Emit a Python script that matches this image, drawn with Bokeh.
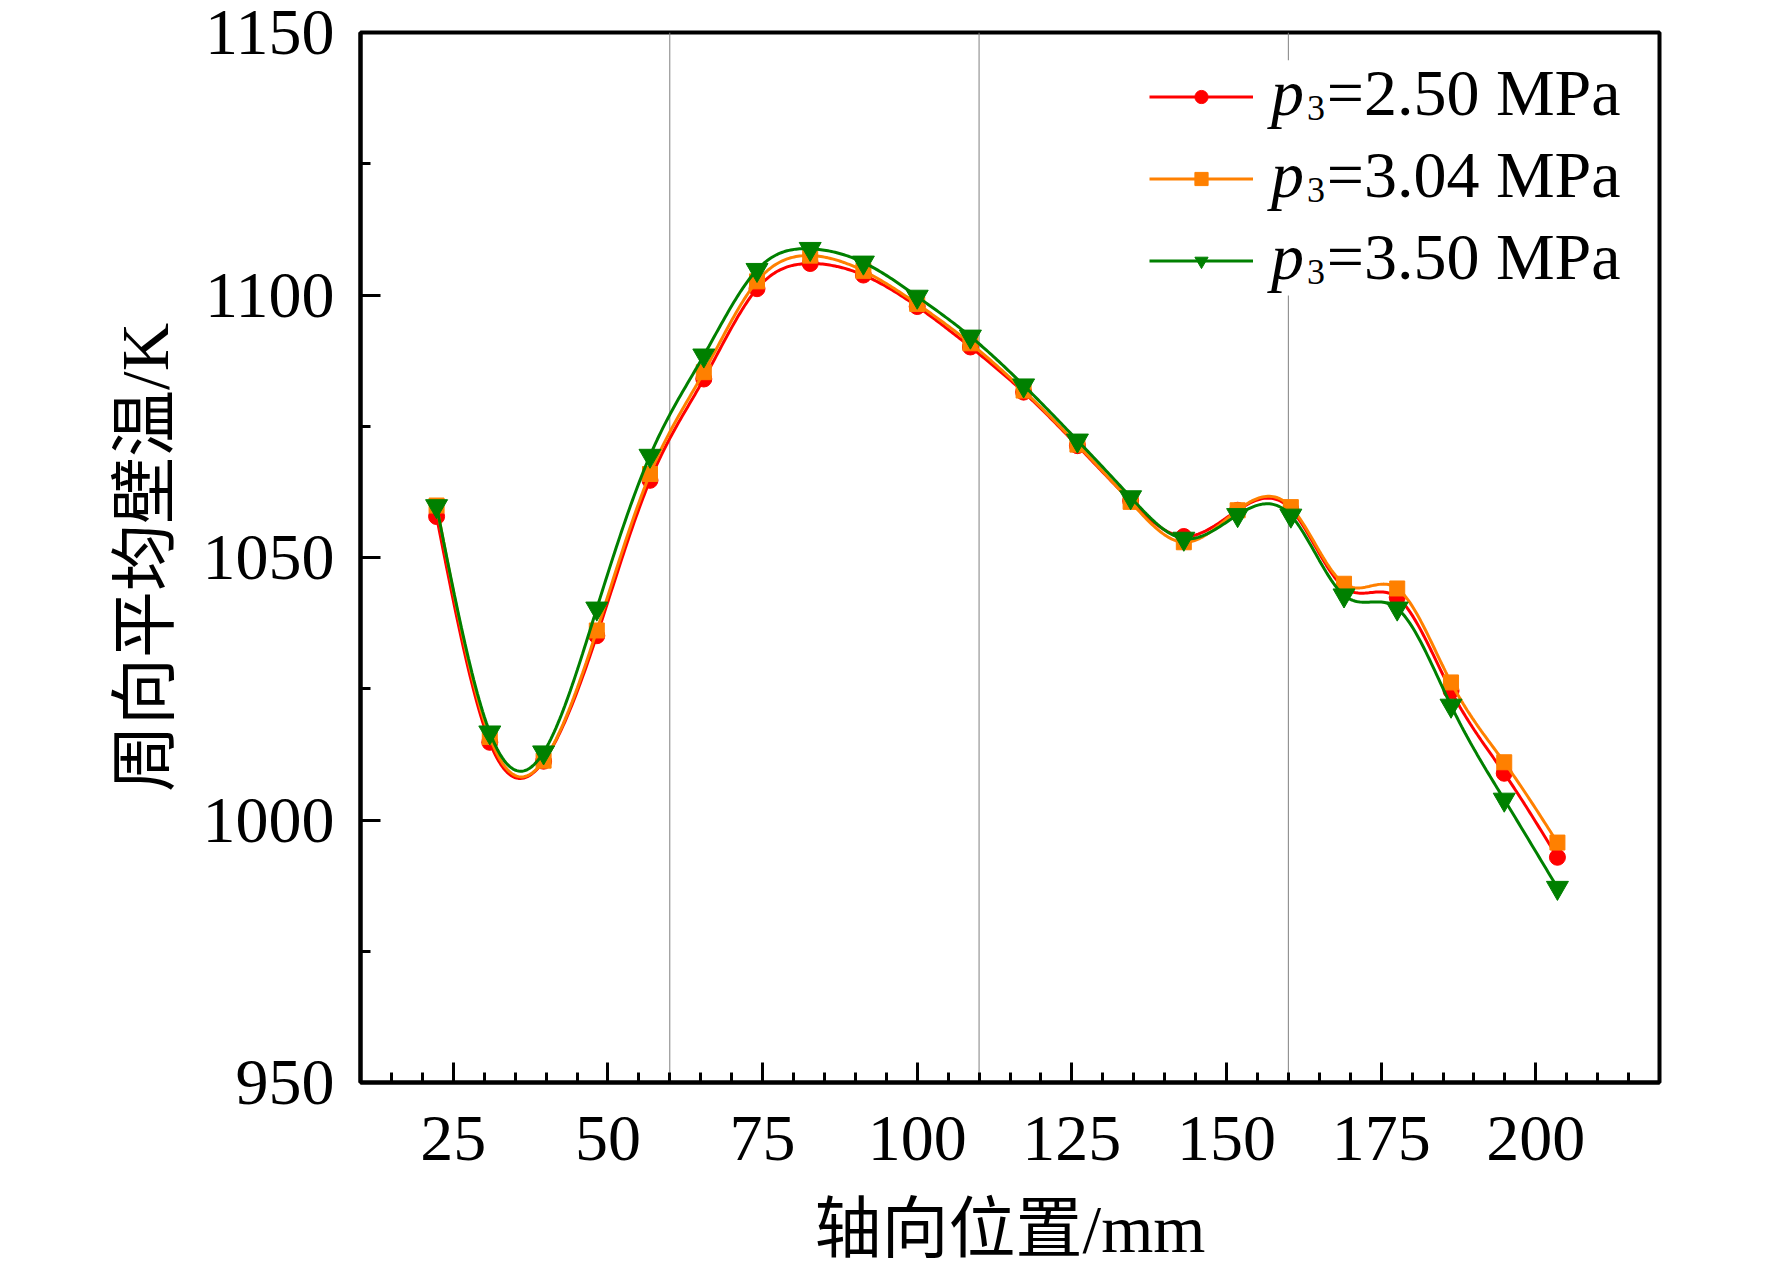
import numpy as np
from bokeh.plotting import figure
from bokeh.models import FixedTicker, Span, Legend, LegendItem, Label, Range1d, BoxAnnotation
from bokeh.embed import file_html
from bokeh.resources import INLINE

# ---------------- data ----------------
axial_mm = [22.3, 30.9, 39.6, 48.2, 56.8, 65.5, 74.1, 82.7, 91.3, 100.0, 108.6,
            117.2, 125.9, 134.5, 143.1, 151.8, 160.4, 169.0, 177.6, 186.3, 194.9, 203.5]
temp_250 = [1057.8, 1014.8, 1011.2, 1035.1, 1064.7, 1084.0, 1101.2, 1106.0, 1103.8, 1097.8, 1090.1,
            1081.5, 1071.3, 1060.8, 1054.0, 1059.0, 1059.2, 1044.3, 1042.4, 1024.6, 1008.9, 992.9]
temp_304 = [1059.9, 1015.8, 1011.3, 1036.1, 1065.9, 1085.3, 1102.6, 1107.5, 1104.6, 1098.3, 1090.8,
            1081.8, 1071.5, 1060.6, 1052.9, 1059.0, 1059.6, 1045.0, 1044.1, 1026.2, 1011.0, 995.7]
temp_350 = [1059.8, 1016.7, 1012.9, 1040.3, 1069.4, 1088.5, 1104.8, 1108.8, 1106.2, 1099.7, 1092.1,
            1082.8, 1072.3, 1061.5, 1053.6, 1058.1, 1058.0, 1042.8, 1040.3, 1021.8, 1003.9, 987.1]
legend_labels = ["=2.50 MPa", "=3.04 MPa", "=3.50 MPa"]
divider_x = [60, 110, 160]
x_major = [25, 50, 75, 100, 125, 150, 175, 200]
x_minor = list(range(10, 221, 5))
y_major = [950, 1000, 1050, 1100, 1150]
y_minor = list(range(950, 1151, 25))

colors = ["#FF0000", "#FF8000", "#008000"]
markers = ["circle", "square", "inverted_triangle"]
msizes = [16, 15, 22]


def natural_spline(x, y, per=30):
    x = np.asarray(x, float)
    y = np.asarray(y, float)
    n = len(x)
    h = np.diff(x)
    A = np.zeros((n, n))
    b = np.zeros(n)
    A[0, 0] = 1
    A[-1, -1] = 1
    for i in range(1, n - 1):
        A[i, i - 1] = h[i - 1]
        A[i, i] = 2 * (h[i - 1] + h[i])
        A[i, i + 1] = h[i]
        b[i] = 6 * ((y[i + 1] - y[i]) / h[i] - (y[i] - y[i - 1]) / h[i - 1])
    M = np.linalg.solve(A, b)
    xs, ys = [], []
    for i in range(n - 1):
        t = np.linspace(x[i], x[i + 1], per, endpoint=(i == n - 2))
        a = x[i + 1] - t
        c = t - x[i]
        s = (M[i] * a ** 3 + M[i + 1] * c ** 3) / (6 * h[i]) \
            + (y[i] / h[i] - M[i] * h[i] / 6) * a + (y[i + 1] / h[i] - M[i + 1] * h[i] / 6) * c
        xs.extend(t)
        ys.extend(s)
    return xs, ys


p = figure(frame_width=1299, frame_height=1050,
           x_range=Range1d(10, 220), y_range=Range1d(950, 1150),
           output_backend="svg", toolbar_location=None,
           min_border_left=360, min_border_right=105,
           min_border_top=32, min_border_bottom=180)
p.background_fill_color = "white"
p.border_fill_color = "white"
p.outline_line_color = "black"
p.outline_line_width = 4
p.xgrid.visible = False
p.ygrid.visible = False

serif = "'Liberation Serif', 'Noto Sans CJK SC'"

for ax, maj, mnr in ((p.xaxis[0], x_major, x_minor), (p.yaxis[0], y_major, y_minor)):
    ax.ticker = FixedTicker(ticks=maj, minor_ticks=mnr)
    ax.axis_line_width = 4
    ax.axis_line_color = "black"
    ax.major_tick_in = 20
    ax.major_tick_out = 0
    ax.minor_tick_in = 10
    ax.minor_tick_out = 0
    ax.major_tick_line_width = 3
    ax.minor_tick_line_width = 3
    ax.major_tick_line_color = "black"
    ax.minor_tick_line_color = "black"
    ax.major_label_text_font = "Liberation Serif"
    ax.major_label_text_font_size = "66px"
    ax.major_label_text_color = "black"
    ax.axis_label_text_font = serif
    ax.axis_label_text_font_size = "67px"
    ax.axis_label_text_font_style = "normal"
    ax.axis_label_text_color = "black"

p.xaxis.axis_label = "轴向位置/mm"
p.yaxis.axis_label = "周向平均壁温/K"
p.xaxis.major_label_standoff = 34
p.yaxis.major_label_standoff = 26
p.xaxis.axis_label_standoff = 29
p.yaxis.axis_label_standoff = 18

for xv in divider_x:
    p.add_layout(Span(location=xv, dimension="height", line_color="#808080",
                      line_width=1, level="underlay"))

# white backing behind the legend (hides the divider line there)
p.add_layout(BoxAnnotation(left=136.0, right=217.3, bottom=1099.9, top=1144.7,
                           fill_color="white", fill_alpha=1.0, line_color=None))

items = []
for yv, col, mk, ms in zip((temp_250, temp_304, temp_350), colors, markers, msizes):
    sx, sy = natural_spline(axial_mm, yv)
    lr = p.line(sx, sy, line_color=col, line_width=3)
    sr = p.scatter(axial_mm, yv, marker=mk, size=ms, fill_color=col, line_color=col)
    items.append(LegendItem(label=" ", renderers=[lr, sr]))

legend = Legend(items=items, location=(789, 805), orientation="vertical",
                glyph_width=104, glyph_height=33, label_height=33, label_width=10,
                label_text_font_size="10px", spacing=49, padding=10, margin=0,
                border_line_color=None, background_fill_alpha=0.0, label_standoff=5)
p.add_layout(legend, "center")

# legend text rows (data-space anchor of each row)
row_y = [1138.6, 1123.0, 1107.4]
for lab, by in zip(legend_labels, row_y):
    p.add_layout(Label(x=157.2, y=by, text="p",
                       text_font="Liberation Serif", text_font_style="italic",
                       text_font_size="66px", text_baseline="alphabetic", text_color="black"))
    p.add_layout(Label(x=163.0, y=by - 3.0, text="3",
                       text_font="Liberation Serif", text_font_size="36px",
                       text_baseline="alphabetic", text_color="black"))
    p.add_layout(Label(x=166.2, y=by, text=lab,
                       text_font="Liberation Serif", text_font_size="66px",
                       text_baseline="alphabetic", text_color="black"))

open("out.html", "w").write(file_html(p, INLINE))
